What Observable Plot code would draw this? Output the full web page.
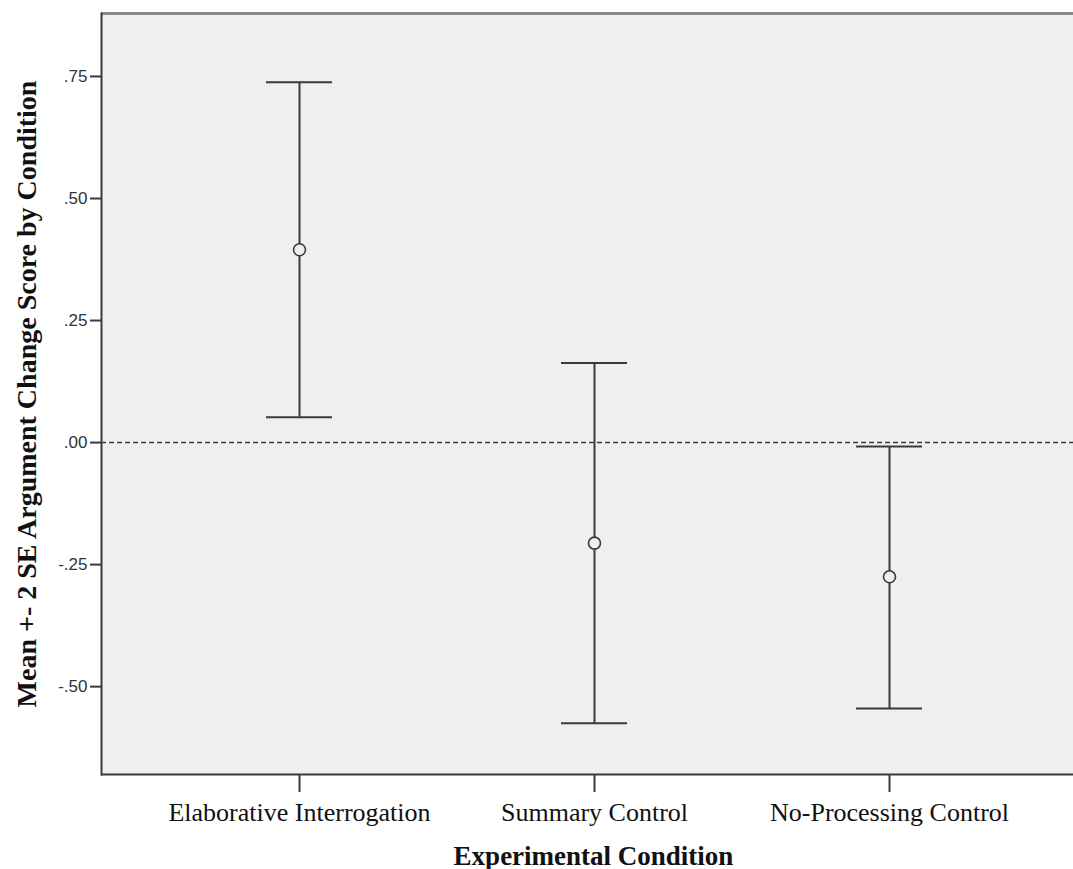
<!DOCTYPE html>
<html><head><meta charset="utf-8">
<script src="https://cdn.jsdelivr.net/npm/d3@7"></script>
<script src="https://cdn.jsdelivr.net/npm/@observablehq/plot@0.6"></script>
<style>html,body{margin:0;padding:0;background:#fff}svg{display:block}</style>
</head><body><div id="chart"></div>
<script>
const conditions = ["Elaborative Interrogation", "Summary Control", "No-Processing Control"];
const means = [0.395, -0.206, -0.275];
const upper = [0.738, 0.163, -0.008];
const lower = [0.052, -0.575, -0.545];
const yTicks = [-0.5, -0.25, 0, 0.25, 0.5, 0.75];
const yTickLabels = ["-.50", "-.25", ".00", ".25", ".50", ".75"];
const yDomain = [-0.680, 0.879];
const xTitle = "Experimental Condition";
const yTitle = "Mean +- 2 SE Argument Change Score by Condition";

const data = conditions.map((c, i) => ({condition: c, mean: means[i], hi: upper[i], lo: lower[i]}));
const ink = "#3a3a3a";

const chart = Plot.plot({
  width: 1073,
  height: 869,
  marginLeft: 101,
  marginRight: 0,
  marginTop: 13,
  marginBottom: 95,
  style: {background: "#ffffff", overflow: "hidden"},
  x: {type: "point", domain: conditions, range: [298, 889], padding: 0},
  y: {domain: yDomain},
  marks: [
    Plot.frame({fill: "#efefef", stroke: "none"}),
    Plot.ruleY([0], {stroke: ink, strokeWidth: 1.6, strokeDasharray: "5,3"}),
    Plot.ruleX(data, {x: "condition", y1: "lo", y2: "hi", stroke: ink, strokeWidth: 2}),
    Plot.ruleY(data, {y: "hi", x1: "condition", x2: "condition", insetLeft: -33, insetRight: -33, stroke: ink, strokeWidth: 2}),
    Plot.ruleY(data, {y: "lo", x1: "condition", x2: "condition", insetLeft: -33, insetRight: -33, stroke: ink, strokeWidth: 2}),
    Plot.dot(data, {x: "condition", y: "mean", r: 6, stroke: ink, strokeWidth: 1.6, fill: "#efefef"}),
    Plot.ruleY([yDomain[1]], {stroke: "#8a8a8a", strokeWidth: 3}),
    Plot.ruleY([yDomain[0]], {stroke: ink, strokeWidth: 2}),
    Plot.frame({anchor: "left", stroke: ink, strokeWidth: 2}),
    Plot.axisY(yTicks, {
      tickFormat: d => yTickLabels[yTicks.indexOf(d)],
      tickSize: 11, tickPadding: 3, stroke: ink, strokeWidth: 2,
      fontSize: 17, fontFamily: "Liberation Sans", fill: "#333", label: null
    }),
    Plot.axisX({
      tickSize: 18, tickPadding: 10, stroke: ink, strokeWidth: 2,
      fontSize: 26, fontFamily: "Liberation Serif", fill: "#111", label: null
    }),
    Plot.text([xTitle], {frameAnchor: "bottom", dx: 6, dy: 90, fontSize: 27, fontWeight: "bold", fontFamily: "Liberation Serif", fill: "#111"}),
    Plot.text([yTitle], {frameAnchor: "left", textAnchor: "middle", dx: -74, rotate: -90, fontSize: 28, fontWeight: "bold", fontFamily: "Liberation Serif", fill: "#111"})
  ]
});
document.getElementById("chart").appendChild(chart);
</script>
</body></html>
